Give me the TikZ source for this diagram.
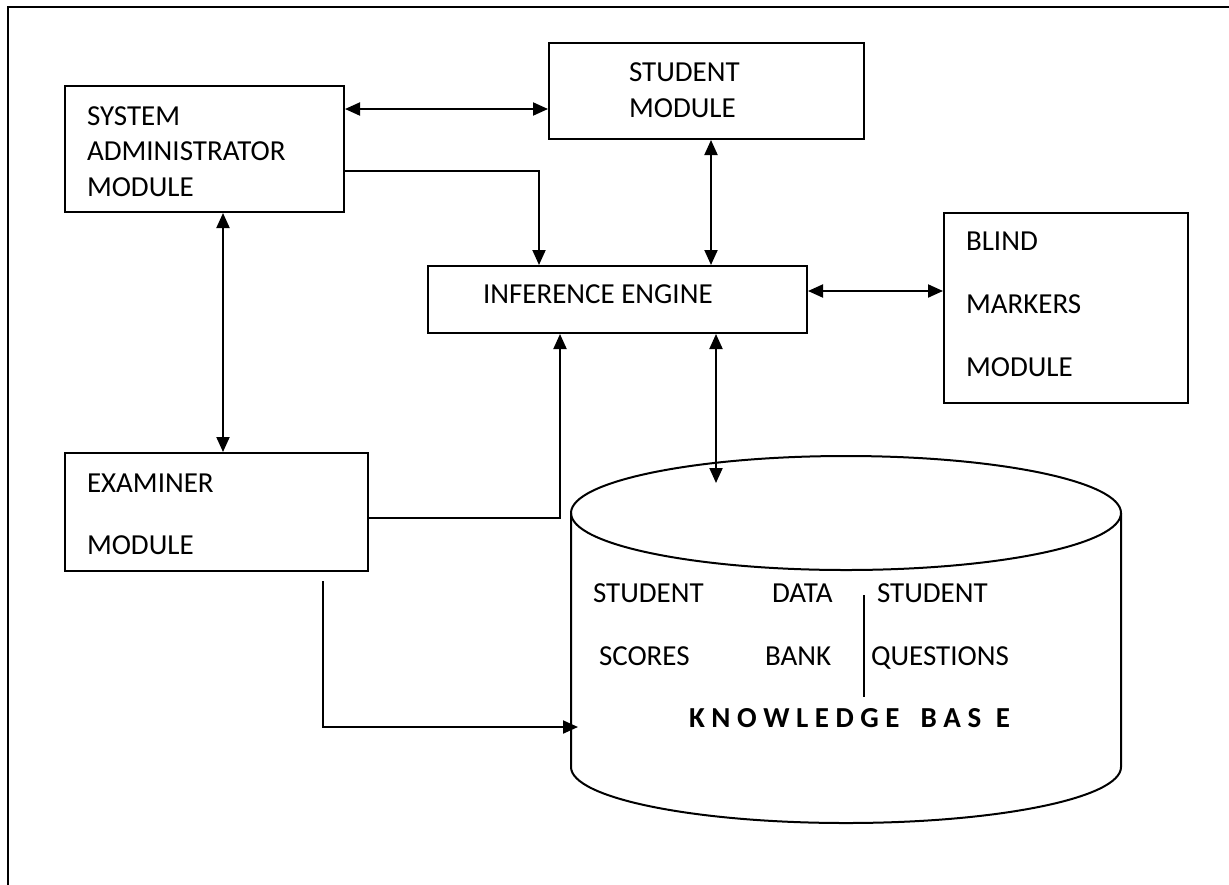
\documentclass[tikz,border=0pt]{standalone}
\usepackage{fontspec}
\setmainfont{Carlito}
\usetikzlibrary{
    arrows.meta,
    fit,
    positioning
}

\begin{document}
\begin{tikzpicture}[x=0.5pt,y=-0.5pt,line width=1pt,
    >={Triangle[length=7.5pt,width=6.5pt]},
    box/.style={draw,rectangle,inner sep=0pt},
    txt/.style={anchor=base west,inner sep=0pt,font=\fontsize{14.5}{17}\selectfont},
    kbtxt/.style={txt,font=\fontsize{14.5}{17}\selectfont\bfseries}]
    \useasboundingbox (0,0) rectangle (1229,884);
    \draw (8,900) |- (1240,7);

    % modules
    \node[box,fit={(65,86) (344,212)}]   (sysadm) {};
    \node[box,fit={(549,43) (864,139)}]  (stdmod) {};
    \node[box,fit={(428,266) (807,333)}] (engine) {};
    \node[box,fit={(944,213) (1188,403)}] (blind) {};
    \node[box,fit={(65,453) (368,571)}]  (examiner) {};

    \node[txt] (sysadm-1) at (86,125) {SYSTEM};
    \node[txt] (sysadm-2) at (86,160) {ADMINISTRATOR};
    \node[txt] (sysadm-3) at (86,196) {MODULE};
    \node[txt] (stdmod-1) at (628,81) {STUDENT};
    \node[txt] (stdmod-2) at (628,117) {MODULE};
    \node[txt] (engine-1) at (482,303) {INFERENCE ENGINE};
    \node[txt] (blind-1) at (965,250) {BLIND};
    \node[txt] (blind-2) at (965,313) {MARKERS};
    \node[txt] (blind-3) at (965,376) {MODULE};
    \node[txt] (examiner-1) at (86,492) {EXAMINER};
    \node[txt] (examiner-2) at (86,554) {MODULE};

    % knowledge base
    \draw (571,513) -- (571,767) arc[start angle=180,end angle=0,x radius=275,y radius=56] -- (1121,513);
    \draw (846,513) ellipse [x radius=275,y radius=57];
    \draw (864,595) -- (864,697);
    \node[txt] (kb-1) at (592,602) {STUDENT};
    \node[txt] (kb-2) at (771,602) {DATA};
    \node[txt] (kb-3) at (876,602) {STUDENT};
    \node[txt] (kb-4) at (598,665) {SCORES};
    \node[txt] (kb-5) at (764,665) {BANK};
    \node[txt] (kb-6) at (870,665) {QUESTIONS};
    \node[kbtxt] (kb-7) at (688,727) {K\ N\ O\ W\ L\ E\ D\ G\ E\enspace\ B\ A\ S\enspace E};
    \coordinate (kbtop) at (716,483);
    \coordinate (kbleft) at (578,727);
    \coordinate (exout) at (323,581);

    % links
    \draw[<->] (sysadm.east |- 0,109) -- (stdmod.west |- 0,109);
    \draw[->] (sysadm.east |- 0,171) -| (engine.north -| 539,0);
    \draw[<->] (stdmod.south -| 711,0) -- (engine.north -| 711,0);
    \draw[<->] (engine.east |- 0,291) -- (blind.west |- 0,291);
    \draw[<->] (sysadm.south -| 223,0) -- (examiner.north -| 223,0);
    \draw[->] (examiner.east |- 0,518) -| (engine.south -| 560,0);
    \draw[<->] (engine.south -| 716,0) -- (kbtop);
    \draw[->] (exout) |- (kbleft);
\end{tikzpicture}
\end{document}
